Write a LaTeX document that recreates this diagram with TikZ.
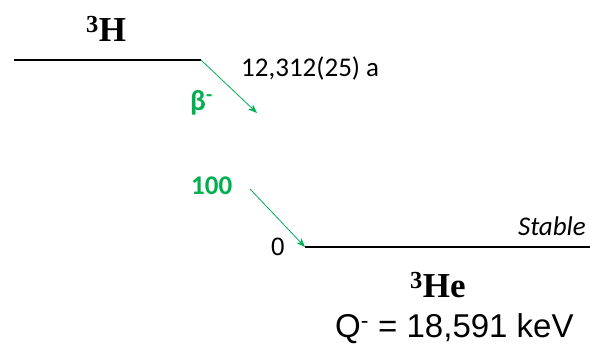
\documentclass[tikz,border=0pt]{standalone}
\usepackage{fontspec}
\setmainfont{Liberation Serif}
\newfontfamily\calib{Carlito}
\newfontfamily\arialf{Liberation Sans}
\usetikzlibrary{arrows.meta}
\definecolor{decaygreen}{RGB}{0,176,80}
\begin{document}
\begin{tikzpicture}[x=1pt,y=-1pt,
  level/.style={line width=2.6pt},
  decay/.style={decaygreen,line width=0.8pt,-{Stealth[length=9pt,width=7pt]}},
  nuc/.style={font=\fontsize{35}{35}\selectfont\bfseries,inner sep=0pt},
  cal/.style={font=\fontsize{27}{27}\selectfont\calib,inner sep=0pt},
  grn/.style={font=\fontsize{27}{27}\selectfont\calib\bfseries,text=decaygreen,inner sep=0pt},
  ari/.style={font=\fontsize{25}{25}\selectfont\arialf,inner sep=0pt}]
\useasboundingbox (0,0) rectangle (590,344);
% levels
\coordinate (l1a) at (14,60);
\coordinate (l1b) at (201,60);
\coordinate (l2a) at (305,247);
\coordinate (l2b) at (590,247);
\draw[level] (l1a) -- (l1b);
\draw[level] (l2a) -- (l2b);
% labels
\node[nuc,anchor=base] (h3) at (106,42) {\textsuperscript{3}H};
\node[nuc,anchor=base] (he3) at (438,298) {\textsuperscript{3}He};
\node[cal,anchor=base west] (half) at (241,77) {12,312(25) a};
\node[cal,anchor=base east] (stab) at (586,236) {\itshape Stable};
\node[grn,anchor=base west,font=\fontsize{29}{29}\selectfont\calib\bfseries] (beta) at (190,111) {β\textsuperscript{-}};
\node[grn,anchor=base west] (int) at (191,195) {100};
\node[ari,anchor=base east] (zero) at (285,256) {0};
\node[ari,anchor=base west,font=\fontsize{33}{33}\selectfont\arialf] (qv) at (335,338) {Q\textsuperscript{-} = 18,591 keV};
% arrows
\coordinate (a1e) at (257,113);
\coordinate (a2s) at (250,189);
\draw[decay] (l1b) -- (a1e);
\draw[decay] (a2s) -- (l2a);
\end{tikzpicture}
\end{document}
